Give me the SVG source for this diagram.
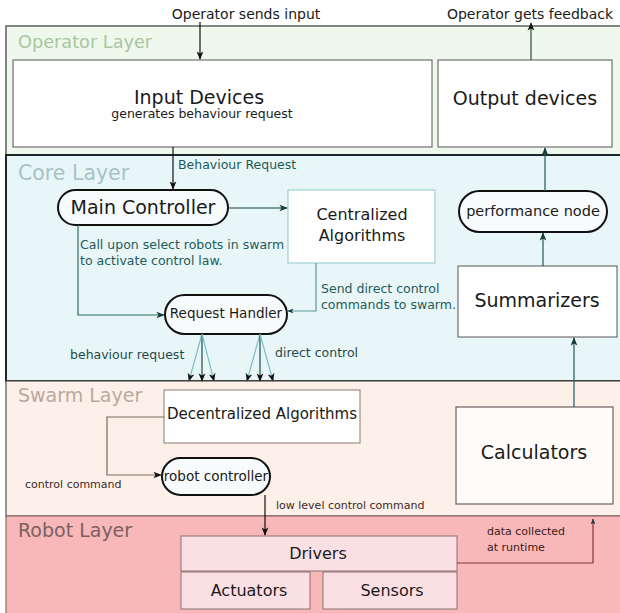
<svg xmlns="http://www.w3.org/2000/svg" width="620" height="613" viewBox="0 0 620 613">
  <style>
    text { font-family: "DejaVu Sans", Verdana, sans-serif; fill: #1a1a1a; }
    .layer-title { font-size: 19px; }
    .big { font-size: 19px; text-anchor: middle; }
    .mid { font-size: 15px; text-anchor: middle; }
    .small { font-size: 13px; }
    .tiny { font-size: 11px; }
    .note { font-size: 12.5px; fill: #1f5a5a; }
    .box { fill: #ffffff; stroke: #555; stroke-width: 1; }
    .stadium { fill: #f7fbfc; stroke: #111; stroke-width: 2; }
    .wire { fill: none; stroke-width: 1.2; }
  </style>
  <defs>
    <marker id="ah" viewBox="0 0 10 10" refX="9" refY="5" markerWidth="7" markerHeight="7" orient="auto-start-reverse">
      <path d="M0,1 L10,5 L0,9 L2.5,5 Z" fill="#111"/>
    </marker>
    <marker id="ah-teal" viewBox="0 0 10 10" refX="9" refY="5" markerWidth="7" markerHeight="7" orient="auto-start-reverse">
      <path d="M0,1 L10,5 L0,9 L2.5,5 Z" fill="#123c3c"/>
    </marker>
    <marker id="ah-small" viewBox="0 0 10 10" refX="9" refY="5" markerWidth="5" markerHeight="5" orient="auto-start-reverse">
      <path d="M0,1 L10,5 L0,9 L2.5,5 Z" fill="#123c3c"/>
    </marker>
  </defs>

  <rect x="0" y="0" width="620" height="613" fill="#ffffff"/>

  <!-- Layers -->
  <g id="operator-layer">
    <rect x="6" y="26" width="620" height="129" fill="#eff8ec" stroke="#5a625a" stroke-width="1.5"/>
    <text class="layer-title" x="18" y="48" style="fill:#a9c6a2;font-size:17.7px">Operator Layer</text>
  </g>
  <g id="core-layer">
    <rect x="6" y="155" width="620" height="226" fill="#e9f6f8" stroke="#1a2828" stroke-width="2"/>
    <text class="layer-title" x="18" y="180" style="fill:#a6c3c6;font-size:20.5px">Core Layer</text>
  </g>
  <g id="swarm-layer">
    <rect x="6" y="381" width="620" height="135" fill="#fdf0e8" stroke="#5a5250" stroke-width="1.2"/>
    <text class="layer-title" x="18" y="402" style="fill:#b9a9a0">Swarm Layer</text>
  </g>
  <g id="robot-layer">
    <rect x="6" y="516" width="620" height="100" fill="#f8b8b9" stroke="#8a6a6a" stroke-width="1.2"/>
    <text class="layer-title" x="18" y="537" style="fill:#7c6062">Robot Layer</text>
  </g>

  <!-- Operator layer nodes -->
  <g id="input-devices">
    <rect class="box" x="13" y="60" width="419" height="87" stroke="#5a6a5a"/>
    <text class="big" x="199" y="104">Input Devices</text>
    <text class="small" x="202" y="118" text-anchor="middle" style="font-size:12.5px">generates behaviour request</text>
  </g>
  <g id="output-devices">
    <rect class="box" x="438" y="60" width="174" height="87" stroke="#5a6a5a"/>
    <text class="big" x="525" y="105">Output devices</text>
  </g>

  <!-- Core layer nodes -->
  <g id="main-controller">
    <rect class="stadium" x="58" y="190" width="170" height="35" rx="17.5"/>
    <text class="big" x="143" y="214">Main Controller</text>
  </g>
  <g id="centralized-algorithms">
    <rect x="288" y="190" width="147" height="73" fill="#ffffff" stroke="#8cc6cc" stroke-width="1"/>
    <text class="mid" x="362" y="220" style="font-size:16px">Centralized</text>
    <text class="mid" x="362" y="241" style="font-size:16px">Algorithms</text>
  </g>
  <g id="request-handler">
    <rect class="stadium" x="165" y="295" width="122" height="39" rx="19.5"/>
    <text class="mid" x="226" y="318" style="font-size:13.5px">Request Handler</text>
  </g>
  <g id="performance-node">
    <rect class="stadium" x="459" y="191" width="148" height="41" rx="20.5"/>
    <text class="mid" x="533" y="216" style="font-size:14.5px">performance node</text>
  </g>
  <g id="summarizers">
    <rect class="box" x="458" y="266" width="159" height="71" stroke="#4f6a6a"/>
    <text class="big" x="537" y="307">Summarizers</text>
  </g>

  <!-- Swarm layer nodes -->
  <g id="decentralized-algorithms">
    <rect x="164" y="390" width="196" height="53" fill="#ffffff" stroke="#8a7a72" stroke-width="1"/>
    <text class="mid" x="262" y="419" style="font-size:15px">Decentralized Algorithms</text>
  </g>
  <g id="robot-controller">
    <rect class="stadium" x="162" y="458" width="108" height="37" rx="18.5" fill="#ffffff"/>
    <text class="mid" x="216" y="481" style="font-size:13.5px">robot controller</text>
  </g>
  <g id="calculators">
    <rect x="456" y="407" width="157" height="97" fill="#fefbf9" stroke="#6a6260" stroke-width="1.2"/>
    <text class="big" x="534" y="459">Calculators</text>
  </g>

  <!-- Robot layer nodes -->
  <g id="drivers">
    <rect x="181" y="536" width="276" height="35" fill="#fae0e3" stroke="#8a7070" stroke-width="1"/>
    <text class="mid" x="318" y="559" style="font-size:16px">Drivers</text>
  </g>
  <g id="actuators">
    <rect x="181" y="572" width="129" height="37" fill="#fae0e3" stroke="#8a7070" stroke-width="1"/>
    <text class="mid" x="249" y="596" style="font-size:16px">Actuators</text>
  </g>
  <g id="sensors">
    <rect x="323" y="572" width="134" height="37" fill="#fae0e3" stroke="#8a7070" stroke-width="1"/>
    <text class="mid" x="392" y="596" style="font-size:16px">Sensors</text>
  </g>

  <!-- Connectors -->
  <g id="connectors">
    <!-- operator input / feedback -->
    <path class="wire" d="M200,22 V59" stroke="#111" marker-end="url(#ah)"/>
    <path class="wire" d="M531,60 V23" stroke="#2a4a3a" marker-end="url(#ah)"/>

    <!-- input devices to main controller -->
    <path class="wire" d="M173,147 V189" stroke="#111" marker-end="url(#ah)"/>
    <!-- main controller to centralized algorithms -->
    <path class="wire" d="M228,208 H287" stroke="#123c3c" marker-end="url(#ah-teal)"/>
    <!-- main controller to request handler -->
    <path class="wire" d="M78,225 V315 H164" stroke="#2d6a6a" marker-end="url(#ah-teal)"/>
    <!-- centralized algorithms to request handler -->
    <path class="wire" d="M316,263 V311 H288" stroke="#5a9a9a" marker-end="url(#ah-small)"/>

    <!-- fan of requests into the swarm -->
    <g stroke-width="1">
      <path class="wire" d="M202,334 L189,381" stroke="#7cc0c6" marker-end="url(#ah)"/>
      <path class="wire" d="M202,334 L202,381" stroke="#1e4a4a" marker-end="url(#ah)"/>
      <path class="wire" d="M202,334 L214,381" stroke="#7cc0c6" marker-end="url(#ah)"/>
      <path class="wire" d="M260,334 L247,381" stroke="#7cc0c6" marker-end="url(#ah)"/>
      <path class="wire" d="M260,334 L260,381" stroke="#1e4a4a" marker-end="url(#ah)"/>
      <path class="wire" d="M260,334 L273,381" stroke="#7cc0c6" marker-end="url(#ah)"/>
    </g>

    <!-- feedback chain -->
    <path class="wire" d="M574,407 V338" stroke="#1e5a5a" marker-end="url(#ah-teal)"/>
    <path class="wire" d="M543,266 V233" stroke="#1e5a5a" marker-end="url(#ah-teal)"/>
    <path class="wire" d="M545,191 V148" stroke="#1e5a5a" marker-end="url(#ah-teal)"/>

    <!-- swarm layer -->
    <path class="wire" d="M164,417 H107 V475 H161" stroke="#7a6a60" marker-end="url(#ah)"/>
    <path class="wire" d="M265,495 V535" stroke="#111" marker-end="url(#ah)"/>

    <!-- data collected at runtime -->
    <path class="wire" d="M457,563 H593 V519" stroke="#8a3434" marker-end="url(#ah-small)"/>
  </g>

  <!-- Connector labels -->
  <g id="labels">
    <text class="small" x="246" y="19" text-anchor="middle" style="font-size:14px">Operator sends input</text>
    <text class="small" x="530" y="19" text-anchor="middle" style="font-size:14px">Operator gets feedback</text>
    <text class="note" x="178" y="169">Behaviour Request</text>
    <text class="note" x="80" y="249">Call upon select robots in swarm</text>
    <text class="note" x="80" y="265">to activate control law.</text>
    <text class="note" x="321" y="293">Send direct control</text>
    <text class="note" x="321" y="309">commands to swarm.</text>
    <text class="note" x="70" y="359" style="fill:#1f4a4a">behaviour request</text>
    <text class="note" x="275" y="357" style="fill:#1f4a4a">direct control</text>
    <text class="tiny" x="25" y="488" style="fill:#3a2a2a">control command</text>
    <text class="tiny" x="276" y="509" style="fill:#3a2a2a">low level control command</text>
    <text class="tiny" x="487" y="535" style="fill:#3a1a1a">data collected</text>
    <text class="tiny" x="487" y="551" style="fill:#3a1a1a">at runtime</text>
  </g>
</svg>
